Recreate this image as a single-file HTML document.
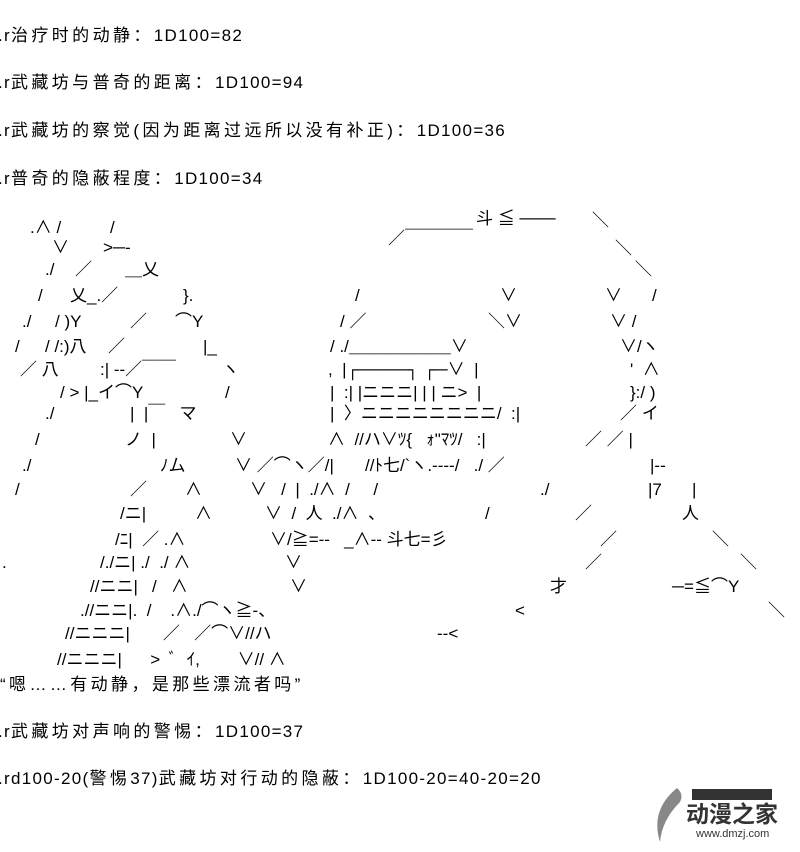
<!DOCTYPE html>
<html><head><meta charset="utf-8"><style>
body{margin:0;width:800px;height:852px;background:#fff;position:relative;overflow:hidden;font-family:"Liberation Sans","Noto Sans CJK SC",sans-serif;color:#000}
.t{position:absolute;left:-2px;font-size:17px;letter-spacing:1.3px;white-space:pre;line-height:20px}
.t b{font-weight:normal;letter-spacing:3.4px}
.a{position:absolute;font-family:"Liberation Sans","Noto Sans CJK JP",sans-serif;font-size:17px;white-space:pre;line-height:18px}
</style></head><body>
<div class="t" style="top:26px">.r<b>治疗时的动静：</b>1D100=82</div>
<div class="t" style="top:73px">.r<b>武藏坊与普奇的距离：</b>1D100=94</div>
<div class="t" style="top:121px">.r<b>武藏坊的察觉(因为距离过远所以没有补正)：</b>1D100=36</div>
<div class="t" style="top:169px">.r<b>普奇的隐蔽程度：</b>1D100=34</div>

<div class="a" style="top:210px;left:476px">斗 ≦ ───</div>
<div class="a" style="top:212px;left:592px">＼</div>
<div class="a" style="top:219px;left:30px">.∧ /</div>
<div class="a" style="top:219px;left:110px">/</div>
<div class="a" style="top:230px;left:388px">／￣￣￣￣</div>
<div class="a" style="top:239px;left:52px">∨</div>
<div class="a" style="top:239px;left:103px">&gt;─-</div>
<div class="a" style="top:240px;left:615px">＼</div>
<div class="a" style="top:261px;left:45px">./</div>
<div class="a" style="top:261px;left:75px">／</div>
<div class="a" style="top:261px;left:125px">＿乂</div>
<div class="a" style="top:261px;left:635px">＼</div>
<div class="a" style="top:287px;left:38px">/</div>
<div class="a" style="top:287px;left:70px">乂_.／</div>
<div class="a" style="top:287px;left:183px">}.</div>
<div class="a" style="top:287px;left:355px">/</div>
<div class="a" style="top:287px;left:500px">∨</div>
<div class="a" style="top:287px;left:605px">∨</div>
<div class="a" style="top:287px;left:652px">/</div>
<div class="a" style="top:313px;left:22px">./</div>
<div class="a" style="top:313px;left:55px">/ )Y</div>
<div class="a" style="top:313px;left:130px">／</div>
<div class="a" style="top:313px;left:175px">⌒Y</div>
<div class="a" style="top:313px;left:340px">/ ／</div>
<div class="a" style="top:313px;left:488px">＼∨</div>
<div class="a" style="top:313px;left:610px">∨ /</div>
<div class="a" style="top:338px;left:15px">/</div>
<div class="a" style="top:338px;left:45px">/ /:)八</div>
<div class="a" style="top:338px;left:108px">／</div>
<div class="a" style="top:338px;left:203px">|_</div>
<div class="a" style="top:338px;left:330px">/ ./＿＿＿＿＿＿∨</div>
<div class="a" style="top:338px;left:620px">∨/ヽ</div>
<div class="a" style="top:361px;left:20px">／ 八</div>
<div class="a" style="top:361px;left:100px">:| --／￣￣</div>
<div class="a" style="top:361px;left:222px">ヽ</div>
<div class="a" style="top:361px;left:328px">,  |┌────┐ ┌─∨  |</div>
<div class="a" style="top:361px;left:630px">'  ∧</div>
<div class="a" style="top:384px;left:60px">/ &gt; |_イ⌒Y</div>
<div class="a" style="top:384px;left:225px">/</div>
<div class="a" style="top:384px;left:330px">|  :| |ニニニ| | | ニ&gt;  |</div>
<div class="a" style="top:384px;left:630px">}:/ )</div>
<div class="a" style="top:405px;left:45px">./</div>
<div class="a" style="top:405px;left:130px">|  |￣   マ</div>
<div class="a" style="top:405px;left:330px">|  〉ニニニニニニニニ/  :|</div>
<div class="a" style="top:405px;left:620px">／ イ</div>
<div class="a" style="top:431px;left:35px">/</div>
<div class="a" style="top:431px;left:125px">ノ  |</div>
<div class="a" style="top:431px;left:230px">∨</div>
<div class="a" style="top:431px;left:328px">∧  //ハ∨ﾂ{   ｫ"ﾏﾂ/   :|</div>
<div class="a" style="top:431px;left:585px">／ ／ |</div>
<div class="a" style="top:457px;left:22px">./</div>
<div class="a" style="top:457px;left:160px">ﾉム</div>
<div class="a" style="top:457px;left:235px">∨ ／⌒ヽ／/|</div>
<div class="a" style="top:457px;left:365px">//ﾄ七/`ヽ.----/   ./ ／</div>
<div class="a" style="top:457px;left:650px">|--</div>
<div class="a" style="top:481px;left:15px">/</div>
<div class="a" style="top:481px;left:130px">／</div>
<div class="a" style="top:481px;left:185px">∧</div>
<div class="a" style="top:481px;left:250px">∨   /  |  ./∧  /     /</div>
<div class="a" style="top:481px;left:540px">./</div>
<div class="a" style="top:481px;left:648px">|7</div>
<div class="a" style="top:481px;left:692px">|</div>
<div class="a" style="top:505px;left:120px">/ニ|</div>
<div class="a" style="top:505px;left:195px">∧</div>
<div class="a" style="top:505px;left:265px">∨  /  人  ./∧  、</div>
<div class="a" style="top:505px;left:485px">/</div>
<div class="a" style="top:505px;left:575px">／</div>
<div class="a" style="top:505px;left:682px">人</div>
<div class="a" style="top:531px;left:115px">/ﾆ|  ／ .∧</div>
<div class="a" style="top:531px;left:270px">∨/≧=--   _∧-- 斗七=彡</div>
<div class="a" style="top:531px;left:600px">／</div>
<div class="a" style="top:531px;left:712px">＼</div>
<div class="a" style="top:554px;left:2px">.</div>
<div class="a" style="top:554px;left:100px">/./ニ| ./  ./ ∧</div>
<div class="a" style="top:554px;left:285px">∨</div>
<div class="a" style="top:554px;left:585px">／</div>
<div class="a" style="top:554px;left:740px">＼</div>
<div class="a" style="top:578px;left:90px">//ニニ|   /   ∧</div>
<div class="a" style="top:578px;left:290px">∨</div>
<div class="a" style="top:578px;left:550px">才</div>
<div class="a" style="top:578px;left:672px">─=≦⌒Y</div>
<div class="a" style="top:602px;left:80px">.//ニニ|.  /    .∧./⌒ヽ≧-、</div>
<div class="a" style="top:602px;left:515px">&lt;</div>
<div class="a" style="top:602px;left:768px">＼</div>
<div class="a" style="top:625px;left:65px">//ニニニ|       ／   ／⌒∨//ハ</div>
<div class="a" style="top:625px;left:437px">--&lt;</div>
<div class="a" style="top:651px;left:57px">//ニニニ|      &gt;  ﾞ  ｲ,        ∨// ∧</div>

<div class="t" style="top:675px;left:0"><b>“嗯……有动静，是那些漂流者吗”</b></div>
<div class="t" style="top:722px">.r<b>武藏坊对声响的警惕：</b>1D100=37</div>
<div class="t" style="top:769px">.rd100-20(<b>警惕</b>37)<b>武藏坊对行动的隐蔽：</b>1D100-20=40-20=20</div>

<svg style="position:absolute;left:640px;top:780px" width="160" height="72">
<path d="M37 8 Q10 30 20 62 Q22 40 40 22 Q44 14 37 8Z" fill="#888"/>
<rect x="52" y="9" width="80" height="11" fill="#333"/>
<text x="46" y="42" font-family="Noto Sans CJK SC,sans-serif" font-size="23" font-weight="bold" fill="#333">动漫之家</text>
<text x="56" y="57" font-family="Liberation Sans,sans-serif" font-size="11" fill="#333">www.dmzj.com</text>
</svg>
</body></html>
